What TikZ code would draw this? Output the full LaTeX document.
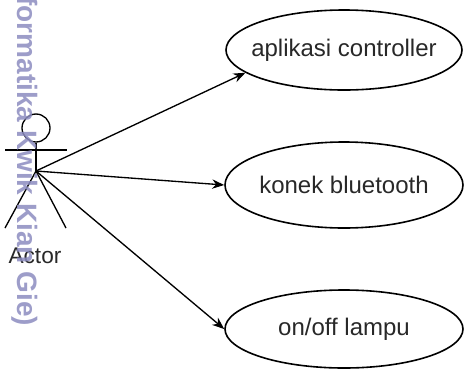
\documentclass[tikz,border=0pt]{standalone}
\usepackage{fontspec}
\setmainfont{Liberation Sans}
\usetikzlibrary{shapes,arrows.meta,positioning}
\definecolor{wmpurple}{RGB}{140,140,192}
\definecolor{labelgray}{RGB}{40,40,40}

\begin{document}
\begin{tikzpicture}[x=0.75pt,y=-0.75pt,
  usecase/.style={ellipse, draw, line width=1.2pt, inner ysep=0pt, inner xsep=-12pt, text=labelgray, font=\fontsize{18}{21}\selectfont},
  stick/.style={line width=1pt},
  >={Stealth[length=9pt,width=7pt]}]
\useasboundingbox (0,0) rectangle (465,369);

% actor
\node (head) [circle, draw, stick, minimum size=21pt, inner sep=0pt] at (36,128) {};
\coordinate (hip) at (36,171);
\coordinate (lhand) at (5,150);
\coordinate (rhand) at (67,150);
\coordinate (lfoot) at (5,228);
\coordinate (rfoot) at (66,228);
\draw [stick] (head.south) -- (hip);
\draw [stick] (lhand) -- (rhand);
\draw [stick] (lfoot) -- (hip) -- (rfoot);
\node (actor) [text=labelgray, font=\fontsize{17}{20}\selectfont, inner sep=0pt] at (35,256) {Actor};

% use cases
\node (controller) [usecase, minimum width=177pt, minimum height=60pt] at (344,50) {aplikasi controller};
\node (bluetooth) [usecase, minimum width=178.5pt, minimum height=64.5pt] at (344,185) {konek bluetooth};
\node (lampu) [usecase, minimum width=178.5pt, minimum height=58.5pt] at (344,329) {on/off lampu};

\draw [->, line width=1pt] (hip) -- (controller.193);
\draw [->, line width=1pt] (hip) -- (bluetooth.west);
\draw [->, line width=1pt] (hip) -- (lampu.west);

% watermark
\node (wm) [rotate=-90, anchor=base west, inner sep=0pt, text=wmpurple, text opacity=0.85,
  font=\bfseries\fontsize{21}{21}\selectfont] at (17,-4) {formatika Kwik Kian Gie)};
\end{tikzpicture}
\end{document}
